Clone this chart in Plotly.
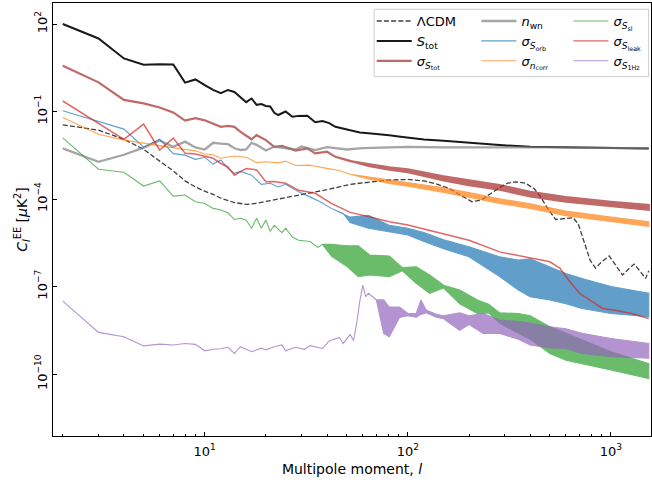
import plotly.graph_objects as go

# ---------------- data ----------------
# Lambda-CDM EE spectrum
lcdm_l = [2, 3, 4, 5, 6, 7, 8, 9, 10, 11, 12, 14, 16, 18, 20, 25, 30, 40, 52, 60, 70, 81, 100, 120, 140,
          160, 180, 207, 230, 250, 283, 310, 341, 380, 420, 450, 490, 534, 580, 650, 690, 740, 790, 840,
          900, 980, 1050, 1140, 1220, 1300, 1400, 1480, 1535]
lcdm_v = [3.5e-2, 2.3e-2, 1.12e-2, 5.1e-3, 2.0e-3, 9.3e-4, 4.2e-4, 2.6e-4, 1.86e-4, 1.45e-4, 1.07e-4, 7.6e-5,
          6.6e-5, 7.1e-5, 8.3e-5, 1.12e-4, 1.48e-4, 2.1e-4, 3.2e-4, 3.6e-4, 4.2e-4, 4.5e-4, 4.7e-4, 4.2e-4,
          3.2e-4, 2.3e-4, 1.41e-4, 8.1e-5, 9.3e-5, 1.41e-4, 2.5e-4, 3.5e-4, 3.9e-4, 3.5e-4, 2.2e-4, 1.2e-4,
          4.5e-5, 2.0e-5, 2.1e-5, 2.3e-5, 1.41e-5, 3.2e-6, 7.9e-7, 4.3e-7, 7.1e-7, 1.12e-6, 5.6e-7, 2.5e-7,
          4.0e-7, 5.9e-7, 3.2e-7, 1.9e-7, 3.5e-7]

# S_tot
stot_l = [2, 3, 4, 5, 6, 7, 8, 9, 10, 11, 12, 13, 14, 15, 16, 17, 18, 19, 20, 21, 22, 23, 25, 27, 29, 32,
          35, 38, 41, 44, 48, 52, 58, 64, 72, 81, 90, 100, 120, 150, 200, 283, 400, 600, 1000, 1535]
stot_v = [1.0e2, 3.2e1, 6.6, 4.0, 4.2, 4.1, 0.98, 1.26, 0.81, 0.55, 0.43, 0.55, 0.47, 0.32, 0.21, 0.28,
          0.17, 0.18, 0.155, 0.15, 0.091, 0.076, 0.10, 0.066, 0.071, 0.072, 0.043, 0.047, 0.040, 0.030,
          0.026, 0.024, 0.019, 0.018, 0.017, 0.0155, 0.014, 0.013, 0.011, 0.010, 0.0085, 0.0071, 0.0062,
          0.0059, 0.0056, 0.0054]

# sigma_S_tot (line part, then band part)
sstot_l = [2, 3, 4, 5, 6, 7, 8, 9, 10, 11, 12, 13, 14, 15, 16, 17, 18, 20, 22, 24, 28, 32, 35, 40, 44, 52]
sstot_v = [3.7, 1.0, 0.25, 0.19, 0.138, 0.093, 0.049, 0.059, 0.050, 0.038, 0.030, 0.032, 0.030, 0.020,
           0.0145, 0.0112, 0.0155, 0.0105, 0.0062, 0.0066, 0.0046, 0.0055, 0.0037, 0.0042, 0.0028, 0.0020]
sstot_band_l = [64, 81, 100, 150, 200, 283, 400, 600, 1000, 1535]
sstot_band_lo = [1.38e-3, 1.02e-3, 8.3e-4, 4.4e-4, 3.0e-4, 2.1e-4, 1.23e-4, 8.1e-5, 5.6e-5, 4.3e-5]
sstot_band_hi = [1.58e-3, 1.23e-3, 1.05e-3, 6.0e-4, 4.4e-4, 3.0e-4, 1.78e-4, 1.17e-4, 8.1e-5, 6.2e-5]

# n_wn
nwn_l = [2, 3, 4, 5, 6, 7, 8, 9, 10, 11, 12, 13, 14, 15, 16, 17, 18, 19, 20, 22, 25, 28, 30, 35, 40, 50,
         60, 80, 100, 150, 200, 300, 500, 1000, 1535]
nwn_v = [5.5e-3, 1.9e-3, 3.3e-3, 5.8e-3, 1.02e-2, 6.2e-3, 9.3e-3, 5.9e-3, 5.0e-3, 8.5e-3, 7.9e-3, 7.6e-3,
         5.5e-3, 4.8e-3, 5.0e-3, 8.5e-3, 7.2e-3, 5.8e-3, 4.6e-3, 6.3e-3, 5.5e-3, 5.0e-3, 6.3e-3, 4.8e-3,
         6.0e-3, 5.0e-3, 5.6e-3, 6.0e-3, 6.2e-3, 5.9e-3, 6.0e-3, 5.9e-3, 5.9e-3, 5.8e-3, 5.5e-3]

# sigma_S_orb
sorb_l = [2, 3, 4, 5, 6, 7, 8, 9, 10, 11, 12, 13, 14, 15, 17, 19, 21, 23, 25, 29, 33, 37, 42, 48]
sorb_v = [0.107, 0.045, 0.025, 6.0e-3, 1.12e-2, 3.6e-3, 3.2e-3, 2.3e-3, 2.7e-3, 1.58e-3, 2.2e-3, 1.12e-3,
          7.6e-4, 8.9e-4, 6.6e-4, 3.2e-4, 3.5e-4, 2.6e-4, 3.2e-4, 1.78e-4, 1.2e-4, 8.1e-5, 4.8e-5, 3.2e-5]
sorb_band_l = [52, 64, 81, 100, 120, 150, 200, 283, 350, 400, 500, 600, 720, 1000, 1535]
sorb_band_lo = [1.58e-5, 1.0e-5, 7.6e-6, 5.9e-6, 3.5e-6, 2.0e-6, 1.05e-6, 2.2e-7, 7.6e-8, 4.5e-8, 3.5e-8,
                2.6e-8, 1.78e-8, 1.2e-8, 9.3e-9]
sorb_band_hi = [2.4e-5, 2.8e-5, 1.26e-5, 1.0e-5, 7.1e-6, 4.0e-6, 2.3e-6, 1.05e-6, 8.1e-7, 8.9e-7, 4.8e-7,
                2.8e-7, 1.9e-7, 1.0e-7, 5.9e-8]

# sigma_n_corr
ncorr_l = [2, 3, 4, 5, 6, 7, 8, 9, 10, 11, 12, 14, 16, 18, 20, 23, 25, 28, 33, 40, 46, 52]
ncorr_v = [6.3e-2, 1.66e-2, 1.05e-2, 8.3e-3, 6.6e-3, 5.5e-3, 5.0e-3, 4.5e-3, 3.5e-3, 3.3e-3, 2.5e-3, 3.0e-3,
           2.7e-3, 1.78e-3, 1.9e-3, 1.74e-3, 2.0e-3, 1.41e-3, 1.45e-3, 1.12e-3, 9.5e-4, 7.1e-4]
ncorr_band_l = [64, 81, 100, 150, 200, 283, 400, 600, 1000, 1535]
ncorr_band_lo = [4.9e-4, 3.4e-4, 2.75e-4, 1.7e-4, 1.15e-4, 7.1e-5, 4.8e-5, 2.7e-5, 1.66e-5, 1.15e-5]
ncorr_band_hi = [5.8e-4, 4.5e-4, 3.8e-4, 2.45e-4, 1.66e-4, 1.02e-4, 6.9e-5, 3.9e-5, 2.4e-5, 1.66e-5]

# sigma_S_sl
ssl_l = [2, 3, 4, 5, 6, 7, 8, 9, 10, 11, 12, 13, 14, 15, 16, 17, 18, 19, 20, 21, 22, 24, 25, 27, 29, 33,
         36, 38]
ssl_v = [1.26e-2, 1.05e-3, 8.3e-4, 2.8e-4, 4.2e-4, 1.26e-4, 1.38e-4, 8.1e-5, 7.1e-5, 4.8e-5, 4.2e-5, 3.4e-5,
         2.0e-5, 2.2e-5, 1.9e-5, 1.0e-5, 2.2e-5, 1.0e-5, 1.9e-5, 7.9e-6, 1.26e-5, 7.1e-6, 1.0e-5, 5.0e-6,
         3.9e-6, 3.5e-6, 2.2e-6, 2.8e-6]
ssl_band_l = [42, 50, 57, 65, 81, 94, 110, 128, 150, 180, 220, 250, 283, 350, 400, 500, 600, 720, 1000, 1535]
ssl_band_lo = [1.12e-6, 5.0e-7, 2.2e-7, 2.5e-7, 2.2e-7, 3.5e-7, 1.29e-7, 5.9e-8, 8.9e-8, 2.6e-8, 1.2e-8,
               1.26e-8, 5.6e-9, 2.5e-9, 1.58e-9, 5.1e-10, 3.0e-10, 2.3e-10, 1.38e-10, 7.1e-11]
ssl_band_hi = [2.8e-6, 2.5e-6, 2.5e-6, 1.2e-6, 1.12e-6, 4.5e-7, 4.8e-7, 2.5e-7, 1.12e-7, 7.6e-8, 3.5e-8,
               2.5e-8, 1.26e-8, 1.2e-8, 1.0e-8, 4.2e-9, 2.5e-9, 1.48e-9, 5.9e-10, 2.3e-10]

# sigma_S_leak
sleak_l = [2, 3, 4, 5, 6, 7, 8, 9, 10, 11, 12, 13, 14, 16, 18, 20, 22, 25, 29, 35, 42, 52, 64, 81, 100,
           150, 200, 283, 400, 500, 560, 620, 700, 810, 910, 1050, 1260, 1535]
sleak_v = [0.23, 0.040, 0.0112, 0.037, 4.8e-3, 1.23e-2, 3.7e-3, 3.5e-3, 3.0e-3, 2.5e-3, 1.66e-3, 1.26e-3,
           6.6e-4, 1.12e-3, 1.0e-3, 3.9e-4, 4.0e-4, 3.5e-4, 2.0e-4, 1.58e-4, 7.1e-5, 3.5e-5, 2.5e-5,
           1.66e-5, 1.29e-5, 6.6e-6, 3.9e-6, 1.55e-6, 9.3e-7, 7.1e-7, 4.3e-7, 1.66e-7, 5.9e-8, 3.0e-8,
           1.78e-8, 1.55e-8, 1.2e-8, 8.1e-9]

# sigma_S_1Hz
s1hz_l = [2, 3, 4, 5, 6, 7, 8, 9, 10, 11, 12, 13, 14, 15, 17, 19, 20, 22, 24, 25, 28, 31, 33, 38, 41, 46,
          48, 52, 54, 56, 58, 60, 62, 64, 70]
s1hz_v = [3.2e-8, 2.7e-9, 1.9e-9, 9.3e-10, 1.07e-9, 1.0e-9, 1.12e-9, 1.05e-9, 6.3e-10, 7.1e-10, 7.4e-10,
          8.3e-10, 5.1e-10, 8.7e-10, 5.9e-10, 7.8e-10, 6.8e-10, 8.7e-10, 1.0e-9, 6.3e-10, 8.3e-10, 7.1e-10,
          9.5e-10, 7.6e-10, 1.38e-9, 1.82e-9, 1.12e-9, 2.3e-9, 1.41e-9, 5.6e-9, 3.2e-8, 1.12e-7, 4.5e-8,
          5.9e-8, 3.5e-8]
s1hz_band_l = [76, 81, 91, 100, 110, 116, 123, 138, 150, 180, 200, 235, 283, 350, 400, 500, 600, 720, 1000, 1535]
s1hz_band_lo = [2.5e-9, 1.9e-9, 8.7e-9, 1.0e-8, 8.9e-9, 1.12e-8, 1.26e-8, 8.9e-9, 7.9e-9, 3.2e-9, 5.0e-9,
                2.5e-9, 2.5e-9, 1.58e-9, 1.0e-9, 7.9e-10, 7.6e-10, 5.1e-10, 4.0e-10, 3.5e-10]
s1hz_band_hi = [3.5e-8, 2.0e-8, 2.0e-8, 1.2e-8, 1.2e-8, 3.5e-8, 1.58e-8, 1.12e-8, 1.0e-8, 1.26e-8, 1.0e-8,
                1.2e-8, 7.1e-9, 6.3e-9, 5.6e-9, 4.2e-9, 3.6e-9, 2.5e-9, 1.66e-9, 1.12e-9]

# axis ticks
x_tickvals = [10, 100, 1000]
x_ticktext = ["10<sup>1</sup>", "10<sup>2</sup>", "10<sup>3</sup>"]
x_minor = [2, 3, 4, 5, 6, 7, 8, 9, 20, 30, 40, 50, 60, 70, 80, 90, 200, 300, 400, 500, 600, 700, 800, 900]
y_tickvals = [1e2, 1e-1, 1e-4, 1e-7, 1e-10]
y_ticktext = ["10<sup>2</sup>", "10<sup>\u22121</sup>", "10<sup>\u22124</sup>", "10<sup>\u22127</sup>",
              "10<sup>\u221210</sup>"]

# ---------------- styling ----------------
FONT = "DejaVu Sans"
C_BROWN = "#a52a2a"
C_GRAY = "#808080"
C_BLUE = "#1f77b4"
C_ORANGE = "#ff7f0e"
C_GREEN = "#2ca02c"
C_RED = "#d62728"
C_PURPLE = "#9467bd"

fig = go.Figure()


def band_polygon(l_line, v_line, l_band, lo, hi):
    xs = list(l_line) + list(l_band)
    up = list(v_line) + list(hi)
    dn = list(v_line) + list(lo)
    return xs + xs[::-1], up + dn[::-1]


def add_line(x, y, color, width, opacity, dash=None):
    fig.add_trace(go.Scatter(x=x, y=y, mode="lines", showlegend=False, hoverinfo="skip",
                             line=dict(color=color, width=width, dash=dash), opacity=opacity))


def add_band(l_line, v_line, l_band, lo, hi, color, width, opacity):
    x, y = band_polygon(l_line, v_line, l_band, lo, hi)
    fig.add_trace(go.Scatter(x=x, y=y, mode="lines", fill="toself", fillcolor=color, showlegend=False,
                             hoverinfo="skip", line=dict(color=color, width=width), opacity=opacity))


add_line(lcdm_l, lcdm_v, "black", 1.3, 0.75, dash="5px,2.2px")
add_line(stot_l, stot_v, "black", 2.0, 0.9)
add_band(sstot_l, sstot_v, sstot_band_l, sstot_band_lo, sstot_band_hi, C_BROWN, 2.2, 0.7)
add_line(nwn_l, nwn_v, C_GRAY, 2.3, 0.7)
add_band(sorb_l, sorb_v, sorb_band_l, sorb_band_lo, sorb_band_hi, C_BLUE, 1.1, 0.7)
add_band(ncorr_l, ncorr_v, ncorr_band_l, ncorr_band_lo, ncorr_band_hi, C_ORANGE, 1.1, 0.7)
add_band(ssl_l, ssl_v, ssl_band_l, ssl_band_lo, ssl_band_hi, C_GREEN, 1.1, 0.7)
add_line(sleak_l, sleak_v, C_RED, 1.5, 0.7)
add_band(s1hz_l, s1hz_v, s1hz_band_l, s1hz_band_lo, s1hz_band_hi, C_PURPLE, 1.1, 0.7)

# legend entries (three columns -> three legends)
entries = [
    ("\u039bCDM", "black", 1.3, 0.75, "5px,2.2px", "legend"),
    ("<i>S</i><sub>tot</sub>", "black", 2.0, 0.9, None, "legend"),
    ("<i>\u03c3</i><sub><i>S</i><sub>tot</sub></sub>", C_BROWN, 2.2, 0.7, None, "legend"),
    ("<i>n</i><sub>wn</sub>", C_GRAY, 2.3, 0.7, None, "legend2"),
    ("<i>\u03c3</i><sub><i>S</i><sub>orb</sub></sub>", C_BLUE, 1.1, 0.7, None, "legend2"),
    ("<i>\u03c3</i><sub><i>n</i><sub>corr</sub></sub>", C_ORANGE, 1.1, 0.7, None, "legend2"),
    ("<i>\u03c3</i><sub><i>S</i><sub>sl</sub></sub>", C_GREEN, 1.1, 0.7, None, "legend3"),
    ("<i>\u03c3</i><sub><i>S</i><sub>leak</sub></sub>", C_RED, 1.1, 0.7, None, "legend3"),
    ("<i>\u03c3</i><sub><i>S</i><sub>1Hz</sub></sub>", C_PURPLE, 1.1, 0.7, None, "legend3"),
]
for name, col, w, op, dash, lg in entries:
    fig.add_trace(go.Scatter(x=[None], y=[None], mode="lines", name=name, legend=lg,
                             line=dict(color=col, width=w, dash=dash), opacity=op))

leg_common = dict(yanchor="top", xanchor="left", y=0.993, bgcolor="rgba(0,0,0,0)",
                  font=dict(family=FONT, size=13, color="black"), itemwidth=35, tracegroupgap=0)

fig.update_layout(
    width=652, height=483,
    margin=dict(l=53, r=1, t=3, b=47),
    paper_bgcolor="white", plot_bgcolor="white",
    font=dict(family=FONT, size=13, color="black"),
    legend=dict(x=0.533, **leg_common),
    legend2=dict(x=0.708, **leg_common),
    legend3=dict(x=0.862, **leg_common),
    shapes=[dict(type="rect", xref="paper", yref="paper", x0=0.537, x1=0.996, y0=0.830, y1=0.9855,
                 line=dict(color="#cccccc", width=1), fillcolor="rgba(255,255,255,0.8)", layer="below")],
)

fig.update_xaxes(
    type="log", range=[0.253, 3.197], showgrid=False, zeroline=False,
    showline=True, linecolor="black", linewidth=1.2, mirror=True,
    ticks="inside", ticklen=4, tickwidth=1, tickcolor="black",
    tickmode="array", tickvals=x_tickvals, ticktext=x_ticktext, ticklabelstandoff=3,
    minor=dict(ticks="inside", ticklen=2.2, tickwidth=0.8, tickcolor="black",
               tickmode="array", tickvals=x_minor, showgrid=False),
    title=dict(text="Multipole moment, <i>l</i>", font=dict(family=FONT, size=14), standoff=6),
    tickfont=dict(family=FONT, size=13),
)
fig.update_yaxes(
    type="log", range=[-12.12, 2.72], showgrid=False, zeroline=False,
    showline=True, linecolor="black", linewidth=1.2, mirror=True,
    ticks="inside", ticklen=4, tickwidth=1, tickcolor="black",
    tickmode="array", tickvals=y_tickvals, ticktext=y_ticktext, tickangle=-90,
    title=dict(text="<i>C</i><sub><i>l</i></sub><sup>EE</sup> [<i>\u03bc</i>K<sup>2</sup>]",
               font=dict(family=FONT, size=14), standoff=2),
    tickfont=dict(family=FONT, size=13),
)

fig.write_html("out.html", config={"displayModeBar": False},
               post_script="document.body.style.margin='0';")
